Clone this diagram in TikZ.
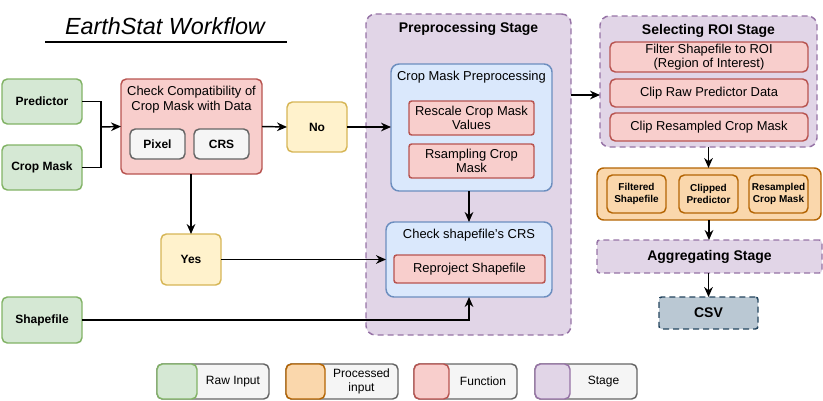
\documentclass[tikz,border=0pt]{standalone}
\usepackage{fontspec}
\setmainfont{Liberation Sans}
\usetikzlibrary{arrows.meta,calc}
\definecolor{gfill}{HTML}{D5E8D4}\definecolor{gline}{HTML}{82B366}
\definecolor{rfill}{HTML}{F8CECC}\definecolor{rline}{HTML}{B85450}
\definecolor{yfill}{HTML}{FFF2CC}\definecolor{yline}{HTML}{D6B656}
\definecolor{pfill}{HTML}{E1D5E7}\definecolor{pline}{HTML}{9673A6}
\definecolor{bfill}{HTML}{DAE8FC}\definecolor{bline}{HTML}{6C8EBF}
\definecolor{ofill}{HTML}{FAD7AC}\definecolor{oline}{HTML}{B46504}
\definecolor{sfill}{HTML}{F5F5F5}\definecolor{sline}{HTML}{666666}
\definecolor{cfill}{HTML}{BAC8D3}\definecolor{cline}{HTML}{23445D}
\tikzset{
  wh/.style 2 args={minimum width=#1*0.75pt, minimum height=#2*0.75pt},
  base/.style={draw, line width=1.1pt, inner sep=1pt, outer sep=0pt, rounded corners=4pt, align=center, font=\fontsize{9.7}{11}\selectfont},
  rawbox/.style={base, fill=gfill, draw=gline, font=\fontsize{9}{10.5}\selectfont\bfseries},
  funcbox/.style={base, fill=rfill, draw=rline},
  decbox/.style={base, fill=yfill, draw=yline, font=\fontsize{9}{10.5}\selectfont\bfseries},
  graybox/.style={base, fill=sfill, draw=sline, font=\fontsize{9}{10.5}\selectfont\bfseries},
  stagebox/.style={base, fill=pfill, draw=pline, dash pattern=on 4.5pt off 3pt, rounded corners=7pt},
  bluebox/.style={base, fill=bfill, draw=bline, rounded corners=6pt},
  procbox/.style={base, fill=ofill, draw=oline, rounded corners=5pt},
  procin/.style={base, fill=ofill, draw=oline, font=\fontsize{7.5}{8.8}\selectfont\bfseries},
  csvbox/.style={base, fill=cfill, draw=cline, dash pattern=on 4.5pt off 3pt, rounded corners=2pt, font=\fontsize{10.5}{12}\selectfont\bfseries},
  ttl/.style={font=\fontsize{9.7}{11}\selectfont, align=center, inner sep=0pt},
  bttl/.style={font=\fontsize{10.5}{12}\selectfont\bfseries, align=center, inner sep=0pt},
  arr/.style={line width=1.1pt, -{Stealth[length=7.5pt,width=6.5pt]}},
  ln/.style={line width=1.1pt},
  legout/.style={base, fill=sfill, draw=sline},
  legtxt/.style={font=\fontsize{9}{10.5}\selectfont, align=center, inner sep=0pt},
}
\begin{document}
\begin{tikzpicture}[x=0.75pt,y=-0.75pt]
\useasboundingbox (0,0) rectangle (823,400);
% title
\node[font=\fontsize{17.5}{20}\selectfont\itshape, inner sep=0pt] (title) at (165,26) {EarthStat Workflow};
\coordinate (ul1) at (45,42); \coordinate (ul2) at (287,42);
\draw[line width=1pt] (ul1) -- (ul2);

% stages (background)
\node[stagebox, wh={205}{321}] (prep) at (468.5,174.5) {};
\node[bttl] (prept) at (468.5,29) {Preprocessing Stage};
\node[stagebox, wh={217}{131}] (roi) at (708.5,81.5) {};
\node[bttl] (roit) at (708.5,31) {Selecting ROI Stage};

% raw inputs
\node[rawbox, wh={80}{45}] (pred) at (42,101.5) {Predictor};
\node[rawbox, wh={80}{45}] (cropm) at (42,167.5) {Crop Mask};
\node[rawbox, wh={80}{46}] (shape) at (42,320) {Shapefile};

% check compatibility
\node[funcbox, wh={141}{95}] (check) at (191.5,126.5) {};
\node[ttl] (checkt) at (191.5,99.5) {Check Compatibility of\\Crop Mask with Data};
\node[graybox, wh={55}{30}] (pixel) at (157.5,144) {Pixel};
\node[graybox, wh={55}{30}] (crs) at (221.5,144) {CRS};

\node[decbox, wh={60}{50}] (no) at (317,127) {No};
\node[decbox, wh={60}{51}] (yes) at (191,259.5) {Yes};

% preprocessing
\node[bluebox, wh={161}{127}] (cmp) at (471.5,127.5) {};
\node[ttl] (cmpt) at (471.5,77) {Crop Mask Preprocessing};
\node[funcbox, wh={125}{34}, rounded corners=2pt] (resc) at (471.5,118) {Rescale Crop Mask\\Values};
\node[funcbox, wh={125}{34}, rounded corners=2pt] (rsamp) at (471.5,161) {Rsampling Crop\\Mask};
\node[bluebox, wh={166}{75}] (chk) at (469,259.5) {};
\node[ttl] (chkt) at (469,235) {Check shapefile's CRS};
\node[funcbox, wh={151}{28}, rounded corners=2pt] (repr) at (469.5,269) {Reproject Shapefile};

% ROI stage
\node[funcbox, wh={198}{30}] (filt) at (709,57) {Filter Shapefile to ROI\\(Region of Interest)};
\node[funcbox, wh={198}{28}] (clipr) at (709,93) {Clip Raw Predictor Data};
\node[funcbox, wh={198}{28}] (clipc) at (709,127) {Clip Resampled Crop Mask};

% processed
\node[procbox, wh={224}{52}] (proc) at (709,194) {};
\node[procin, wh={59}{38}] (fs) at (636.5,194) {Filtered\\Shapefile};
\node[procin, wh={59}{38}] (cp) at (708.5,194) {Clipped\\Predictor};
\node[procin, wh={59}{38}] (rcm) at (778.5,194) {Resampled\\Crop Mask};

\node[stagebox, wh={225}{33}, rounded corners=2pt, font=\fontsize{10.5}{12}\selectfont\bfseries] (agg) at (709.5,256.5) {Aggregating Stage};
\node[csvbox, wh={99}{32}] (csv) at (708.5,313) {CSV};

% connectors
\coordinate (j) at (101,127);
\draw[ln] (pred.east) -| (j);
\draw[ln] (cropm.east) -| (j);
\draw[arr] (j) -- (check.west);
\draw[arr] (check.east) -- (no.west);
\draw[arr] (no.east) -- (no.east -| cmp.west);
\draw[arr] (check.south -| yes.north) -- (yes.north);
\draw[arr] (yes.east) -- (chk.west);
\draw[arr] (shape.east) -| (chk.south);
\draw[arr] (chk.north |- cmp.south) -- (chk.north);
\coordinate (pr) at (571,95);
\draw[arr] (pr) -- (pr -| roi.west);
\draw[arr] (roi.south) -- (roi.south |- proc.north);
\draw[arr] (proc.south) -- (proc.south |- agg.north);
\draw[arr] (agg.south -| csv.north) -- (csv.north);

% legend
\node[legout, wh={112}{35}] (l1) at (213,381.5) {};
\node[base, fill=gfill, draw=gline, wh={40}{35}] (l1s) at (177,381.5) {};
\node[legtxt] (l1t) at (233,381.5) {Raw Input};
\node[legout, wh={112}{35}] (l2) at (342,381.5) {};
\node[base, fill=ofill, draw=oline, wh={39}{35}] (l2s) at (305.5,381.5) {};
\node[legtxt] (l2t) at (361.5,381.5) {Processed\\input};
\node[legout, wh={103}{35}] (l3) at (465.5,381.5) {};
\node[base, fill=rfill, draw=rline, wh={35}{35}] (l3s) at (431.5,381.5) {};
\node[legtxt] (l3t) at (483,381.5) {Function};
\node[legout, wh={102}{35}] (l4) at (586,381.5) {};
\node[base, fill=pfill, draw=pline, wh={35}{35}] (l4s) at (552.5,381.5) {};
\node[legtxt] (l4t) at (603.5,381.5) {Stage};
\end{tikzpicture}
\end{document}
